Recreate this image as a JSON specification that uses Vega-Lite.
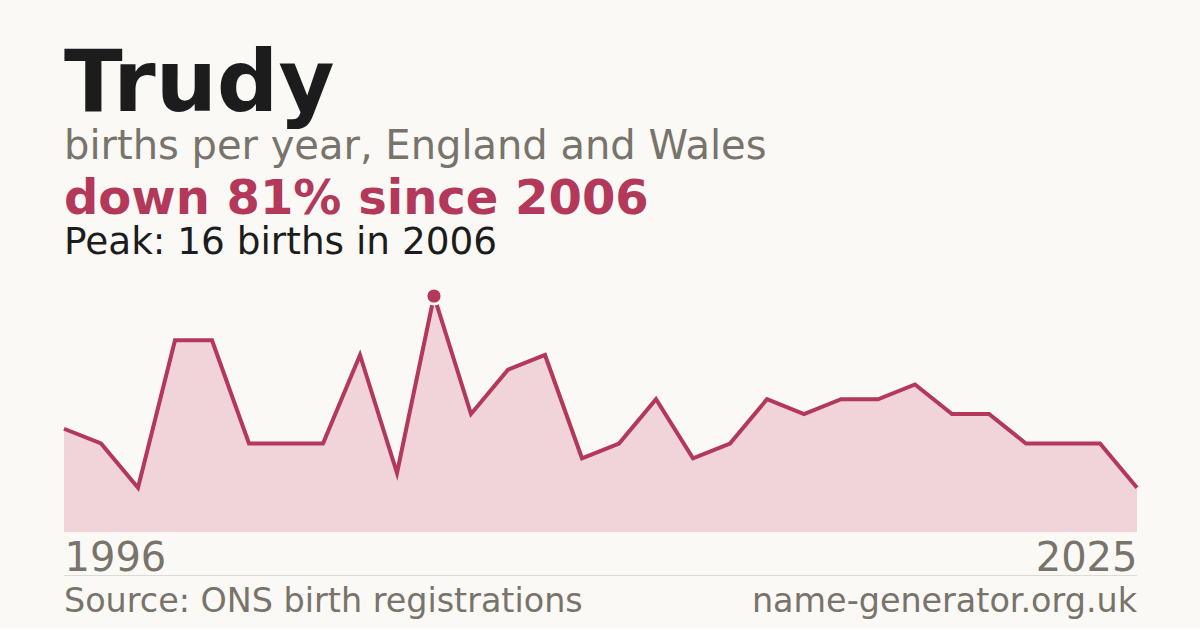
{
  "$schema": "https://vega.github.io/schema/vega-lite/v6.json",
  "background": "#FAF9F5",
  "padding": {"left": 56, "right": 55, "top": 42, "bottom": 10},
  "config": {
    "view": {"stroke": null},
    "font": "DejaVu Sans",
    "title": {"font": "DejaVu Sans", "subtitleFont": "DejaVu Sans"}
  },
  "title": {
    "text": "Trudy",
    "subtitle": "births per year, England and Wales",
    "anchor": "start",
    "dx": 8,
    "fontSize": 86,
    "fontWeight": "bold",
    "color": "#1C1C1C",
    "subtitleFontSize": 40,
    "subtitleColor": "#78736B",
    "subtitlePadding": -2,
    "offset": 8
  },
  "datasets": {
    "births": [
      {"year": 1996, "births": 7},
      {"year": 1997, "births": 6},
      {"year": 1998, "births": 3},
      {"year": 1999, "births": 13},
      {"year": 2000, "births": 13},
      {"year": 2001, "births": 6},
      {"year": 2002, "births": 6},
      {"year": 2003, "births": 6},
      {"year": 2004, "births": 12},
      {"year": 2005, "births": 4},
      {"year": 2006, "births": 16},
      {"year": 2007, "births": 8},
      {"year": 2008, "births": 11},
      {"year": 2009, "births": 12},
      {"year": 2010, "births": 5},
      {"year": 2011, "births": 6},
      {"year": 2012, "births": 9},
      {"year": 2013, "births": 5},
      {"year": 2014, "births": 6},
      {"year": 2015, "births": 9},
      {"year": 2016, "births": 8},
      {"year": 2017, "births": 9},
      {"year": 2018, "births": 9},
      {"year": 2019, "births": 10},
      {"year": 2020, "births": 8},
      {"year": 2021, "births": 8},
      {"year": 2022, "births": 6},
      {"year": 2023, "births": 6},
      {"year": 2024, "births": 6},
      {"year": 2025, "births": 3}
    ],
    "footer": [
      {"label": "Source: ONS birth registrations", "side": "left"},
      {"label": "name-generator.org.uk", "side": "right"}
    ]
  },
  "bounds": "flush",
  "spacing": 43.5,
  "vconcat": [
    {
      "width": 1073,
      "height": 236,
      "data": {"name": "births"},
      "title": {
        "text": "down 81% since 2006",
        "subtitle": "Peak: 16 births in 2006",
        "anchor": "start",
        "dx": 8,
        "fontSize": 48,
        "fontWeight": "bold",
        "color": "#B3385A",
        "subtitleFontSize": 37.4,
        "subtitleColor": "#1C1C1C",
        "subtitlePadding": 0,
        "offset": 20.5
      },
      "encoding": {
        "x": {
          "field": "year",
          "type": "quantitative",
          "scale": {"domain": [1996, 2025], "nice": false, "zero": false},
          "axis": {
            "values": [1996, 2025],
            "format": "d",
            "labelFlush": true,
            "ticks": false,
            "domain": false,
            "grid": false,
            "title": null,
            "labelFontSize": 40,
            "labelColor": "#78736B",
            "labelPadding": 6.5
          }
        },
        "y": {
          "field": "births",
          "type": "quantitative",
          "scale": {"domain": [0, 16], "nice": false},
          "axis": null
        }
      },
      "layer": [
        {"mark": {"type": "area", "color": "#F0D4DA"}},
        {"mark": {"type": "line", "color": "#B3385A", "strokeWidth": 4}},
        {
          "transform": [{"filter": "datum.year == 2006"}],
          "mark": {"type": "point", "filled": true, "fill": "#B3385A", "stroke": "#FAF9F5", "strokeWidth": 3, "size": 260, "opacity": 1}
        }
      ]
    },
    {
      "width": 1073,
      "height": 36,
      "data": {"name": "footer"},
      "layer": [
        {
          "transform": [{"filter": "datum.side == 'left'"}],
          "mark": {"type": "rule", "color": "#DEDBD5", "strokeWidth": 1},
          "encoding": {
            "x": {"datum": 0, "type": "quantitative", "scale": {"domain": [0, 1], "nice": false}, "axis": null},
            "x2": {"datum": 1},
            "y": {"datum": 1, "type": "quantitative", "scale": {"domain": [0, 1], "nice": false}, "axis": null}
          }
        },
        {
          "transform": [{"filter": "datum.side == 'left'"}],
          "mark": {"type": "text", "align": "left", "baseline": "alphabetic", "fontSize": 33.4, "color": "#78736B"},
          "encoding": {
            "text": {"field": "label"},
            "x": {"datum": 0, "type": "quantitative"},
            "y": {"datum": 0, "type": "quantitative"}
          }
        },
        {
          "transform": [{"filter": "datum.side == 'right'"}],
          "mark": {"type": "text", "align": "right", "baseline": "alphabetic", "fontSize": 33.4, "color": "#78736B"},
          "encoding": {
            "text": {"field": "label"},
            "x": {"datum": 1, "type": "quantitative"},
            "y": {"datum": 0, "type": "quantitative"}
          }
        }
      ]
    }
  ]
}
